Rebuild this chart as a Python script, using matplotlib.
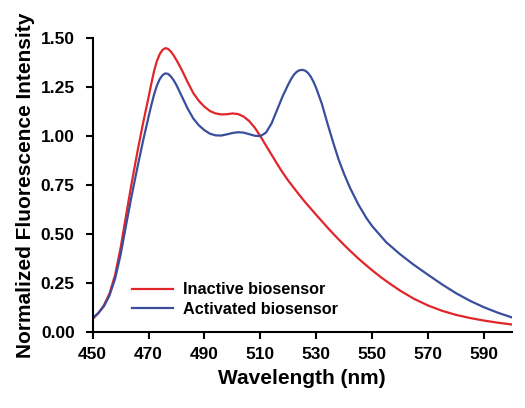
import matplotlib
matplotlib.use("Agg")
from matplotlib import pyplot as plt

plt.rcParams['font.family'] = ['Liberation Sans', 'DejaVu Sans']
plt.rcParams['font.weight'] = 'bold'

# wavelength (nm) and normalized intensity
wl_inactive = [450, 452, 454, 456, 458, 460, 462, 464, 466, 468, 470, 471,
               472, 473, 474, 475, 476, 477, 478, 479, 480, 481, 482, 484,
               486, 488, 490, 492, 494, 496, 498, 500, 502, 504, 506, 508,
               510, 512, 514, 516, 518, 520, 522, 524, 526, 528, 530, 532,
               534, 536, 538, 540, 542, 545, 548, 550, 553, 556, 560, 565,
               570, 575, 580, 585, 590, 595, 600]
inactive = [0.065, 0.095, 0.135, 0.195, 0.29, 0.43, 0.60, 0.765, 0.92, 1.065,
            1.20, 1.27, 1.335, 1.385, 1.42, 1.441, 1.45, 1.446, 1.432, 1.412,
            1.388, 1.362, 1.335, 1.275, 1.22, 1.18, 1.15, 1.128, 1.116, 1.111,
            1.112, 1.116, 1.113, 1.10, 1.077, 1.043, 1.0, 0.952, 0.905, 0.858,
            0.813, 0.772, 0.735, 0.698, 0.663, 0.63, 0.597, 0.565, 0.533,
            0.502, 0.472, 0.443, 0.415, 0.375, 0.338, 0.314, 0.28, 0.249,
            0.21, 0.168, 0.134, 0.107, 0.086, 0.07, 0.057, 0.046, 0.037]

wl_active = [450, 452, 454, 456, 458, 460, 462, 464, 466, 468, 470, 471, 472,
             473, 474, 475, 476, 477, 478, 479, 480, 482, 484, 486, 488, 490,
             492, 494, 496, 498, 500, 502, 504, 506, 508, 510, 512, 514, 516,
             518, 520, 521, 522, 523, 524, 525, 526, 527, 528, 529, 530, 532,
             534, 536, 538, 540, 542, 545, 548, 550, 555, 560, 565, 570, 575,
             580, 585, 590, 595, 600]
active = [0.07, 0.095, 0.13, 0.185, 0.27, 0.395, 0.55, 0.70, 0.84, 0.975,
          1.10, 1.16, 1.215, 1.26, 1.292, 1.312, 1.321, 1.318, 1.305, 1.285,
          1.26, 1.20, 1.14, 1.09, 1.055, 1.03, 1.012, 1.004, 1.003, 1.009,
          1.016, 1.02, 1.018, 1.01, 1.002, 1.0, 1.018, 1.065, 1.135, 1.205,
          1.265, 1.292, 1.314, 1.329, 1.337, 1.339, 1.335, 1.324, 1.305,
          1.278, 1.245, 1.165, 1.065, 0.97, 0.88, 0.805, 0.738, 0.652, 0.58,
          0.54, 0.458, 0.396, 0.341, 0.291, 0.242, 0.197, 0.158, 0.125,
          0.097, 0.073]

x_ticks = [450, 470, 490, 510, 530, 550, 570, 590]
y_ticks = [0.0, 0.25, 0.5, 0.75, 1.0, 1.25, 1.5]

fig = plt.figure(figsize=(5.25, 4.08), dpi=100)
ax = fig.add_axes([0.1766, 0.187, 0.7984, 0.719])

ax.plot(wl_inactive, inactive, color='#e0262b', lw=1.6, label='Inactive biosensor')
ax.plot(wl_active, active, color='#3a4e9c', lw=1.6, label='Activated biosensor')

ax.set_xlim(450, 600)
ax.set_ylim(0, 1.5)
ax.set_xticks(x_ticks)
ax.set_yticks(y_ticks)
ax.set_yticklabels(['%.2f' % v for v in y_ticks])

for side in ['top', 'right']:
    ax.spines[side].set_visible(False)
for side in ['left', 'bottom']:
    ax.spines[side].set_linewidth(1.5)
ax.tick_params(width=1.5, length=5, labelsize=12.5)
ax.tick_params(axis='x', pad=6)
ax.tick_params(axis='y', pad=8)

ax.set_xlabel('Wavelength (nm)', fontsize=15, fontweight='bold', labelpad=5)
ax.set_ylabel('Normalized Fluorescence Intensity', fontsize=15,
              fontweight='bold', labelpad=4)

ax.legend(loc='lower left', bbox_to_anchor=(0.06, 0.0), frameon=False,
          fontsize=11.7, handlelength=2.5, handletextpad=0.6, labelspacing=0.3)

plt.savefig('out.png', dpi=100)
